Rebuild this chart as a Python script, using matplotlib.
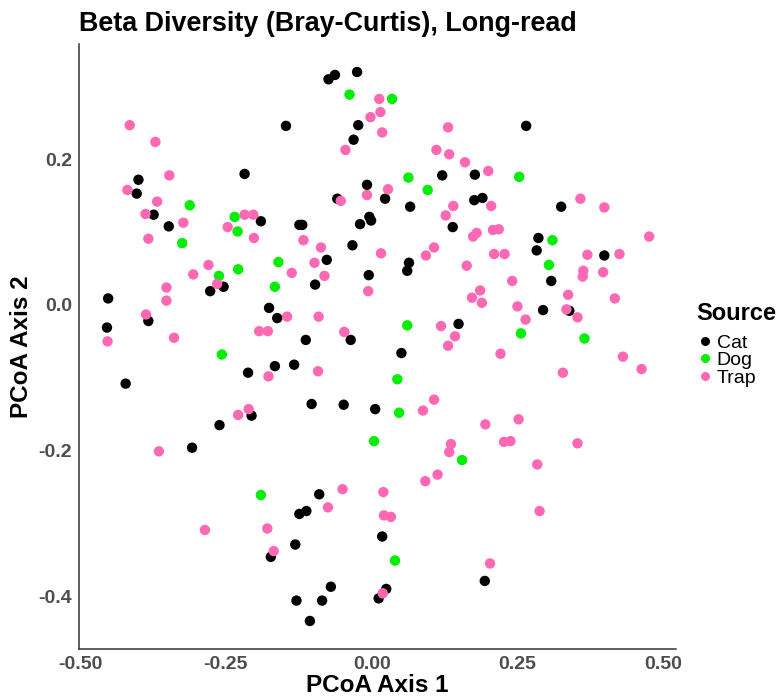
import matplotlib
matplotlib.use("Agg")
import matplotlib.pyplot as plt
from matplotlib.lines import Line2D

plt.rcParams['font.family'] = ['Liberation Sans', 'DejaVu Sans']

groups = ["Cat", "Dog", "Trap"]
colors = {"Cat": "#000000", "Dog": "#00EE00", "Trap": "#FF69B4"}

cat_x = [-0.400, -0.403, -0.374, -0.348, -0.218, -0.190, -0.074, -0.063, -0.025, -0.147,
         -0.023, -0.031, 0.121, 0.177, -0.008, -0.059, 0.023, 0.066, 0.176, 0.190,
         0.139, -0.124, -0.119, -0.020, -0.004, -0.001, -0.033, 0.265, 0.325, 0.286,
         0.283, 0.399, 0.308, 0.294, 0.339, -0.277, -0.254, -0.452, -0.383, -0.176,
         -0.162, -0.454, -0.212, -0.166, -0.422, -0.206, -0.261, -0.308, -0.173, -0.077,
         -0.097, -0.005, 0.064, 0.061, 0.149, -0.036, -0.113, 0.051, -0.133, -0.103,
         -0.048, 0.006, -0.090, -0.124, -0.112, 0.018, -0.131, -0.070, -0.129, -0.085,
         0.025, 0.012, -0.106, 0.194]
cat_y = [0.172, 0.153, 0.124, 0.108, 0.180, 0.115, 0.310, 0.316, 0.320, 0.246,
         0.247, 0.227, 0.178, 0.179, 0.165, 0.146, 0.146, 0.135, 0.144, 0.147,
         0.107, 0.110, 0.110, 0.111, 0.121, 0.116, 0.082, 0.246, 0.135, 0.092,
         0.075, 0.068, 0.033, -0.007, -0.008, 0.019, 0.025, 0.009, -0.022, -0.004,
         -0.018, -0.031, -0.093, -0.084, -0.108, -0.152, -0.165, -0.196, -0.346, 0.062,
         0.028, 0.041, 0.058, 0.047, -0.026, -0.048, -0.048, -0.066, -0.082, -0.136,
         -0.137, -0.143, -0.260, -0.287, -0.283, -0.318, -0.329, -0.387, -0.406, -0.406,
         -0.390, -0.403, -0.434, -0.379]

dog_x = [-0.312, -0.235, -0.230, -0.325, -0.038, 0.035, 0.063, 0.096, 0.253, 0.310,
         0.304, -0.229, -0.262, -0.160, -0.166, -0.257, -0.190, 0.061, 0.044, 0.047,
         0.004, 0.155, 0.040, 0.256, 0.365]
dog_y = [0.137, 0.121, 0.101, 0.085, 0.289, 0.283, 0.175, 0.158, 0.176, 0.089,
         0.055, 0.049, 0.040, 0.059, 0.025, -0.068, -0.261, -0.028, -0.102, -0.148,
         -0.187, -0.213, -0.351, -0.039, -0.046]

trap_x = [-0.415, -0.371, -0.347, -0.419, -0.368, -0.388, -0.323, -0.383, -0.218, -0.203,
          -0.247, -0.202, 0.013, 0.015, -0.002, 0.018, -0.045, 0.131, 0.111, 0.133,
          0.160, 0.200, 0.028, -0.008, -0.053, 0.140, 0.127, 0.205, 0.174, 0.180,
          -0.117, -0.087, 0.107, 0.016, 0.093, 0.358, 0.399, 0.208, 0.218, 0.476,
          0.210, 0.228, 0.370, 0.425, 0.363, 0.362, 0.397, 0.241, 0.186, 0.172,
          0.189, 0.337, 0.417, 0.250, 0.334, 0.353, 0.264, 0.221, 0.431, 0.463,
          0.328, 0.252, 0.195, 0.227, 0.238, 0.353, 0.284, 0.288, 0.203, -0.280,
          -0.306, -0.265, -0.352, -0.352, -0.387, -0.453, -0.339, -0.193, -0.178, -0.177,
          -0.211, -0.229, -0.365, -0.286, -0.179, -0.168, -0.098, -0.137, -0.081, -0.006,
          0.163, -0.145, -0.091, 0.119, 0.143, 0.131, -0.047, -0.092, 0.107, 0.088,
          0.136, 0.133, 0.092, 0.113, -0.050, 0.020, -0.075, 0.021, 0.033, 0.019]
trap_y = [0.247, 0.224, 0.178, 0.158, 0.142, 0.125, 0.113, 0.091, 0.124, 0.124,
          0.107, 0.092, 0.283, 0.265, 0.258, 0.237, 0.213, 0.244, 0.213, 0.207,
          0.196, 0.184, 0.159, 0.151, 0.143, 0.136, 0.123, 0.136, 0.094, 0.099,
          0.089, 0.079, 0.079, 0.071, 0.068, 0.146, 0.134, 0.103, 0.104, 0.094,
          0.070, 0.070, 0.069, 0.070, 0.047, 0.039, 0.045, 0.033, 0.020, 0.010,
          0.003, 0.014, 0.009, -0.002, -0.006, -0.017, -0.020, -0.067, -0.071, -0.088,
          -0.093, -0.157, -0.164, -0.188, -0.187, -0.190, -0.219, -0.283, -0.355, 0.055,
          0.042, 0.029, 0.024, 0.006, -0.013, -0.050, -0.045, -0.036, -0.036, -0.098,
          -0.143, -0.151, -0.201, -0.309, -0.307, -0.338, 0.058, 0.044, 0.040, 0.019,
          0.054, -0.016, -0.016, -0.029, -0.043, -0.056, -0.037, -0.091, -0.130, -0.145,
          -0.191, -0.202, -0.242, -0.233, -0.253, -0.257, -0.278, -0.289, -0.291, -0.396]

data = {"Cat": (cat_x, cat_y), "Dog": (dog_x, dog_y), "Trap": (trap_x, trap_y)}

x_ticks = [-0.50, -0.25, 0.00, 0.25, 0.50]
y_ticks = [-0.4, -0.2, 0.0, 0.2]

fig = plt.figure(figsize=(7.79, 6.98), dpi=100)
ax = fig.add_axes([0.1014, 0.0702, 0.7664, 0.8668])

for g in groups:
    xs, ys = data[g]
    ax.scatter(xs, ys, s=56, color=colors[g], edgecolors='none', zorder=3)

ax.set_xlim(-0.502, 0.522)
ax.set_ylim(-0.4725, 0.3585)
ax.set_xticks(x_ticks)
ax.set_xticklabels([f"{t:.2f}" for t in x_ticks])
ax.set_yticks(y_ticks)
ax.set_yticklabels([f"{t:.1f}" for t in y_ticks])

for side in ['top', 'right']:
    ax.spines[side].set_visible(False)
for side in ['left', 'bottom']:
    ax.spines[side].set_color('#333333')
    ax.spines[side].set_linewidth(1.1)

ax.tick_params(axis='both', length=0, pad=5, labelsize=14, labelcolor='#4D4D4D')
for lbl in ax.get_xticklabels() + ax.get_yticklabels():
    lbl.set_fontweight('bold')

ax.set_xlabel("PCoA Axis 1", fontsize=17.5, fontweight='bold', labelpad=1)
ax.set_ylabel("PCoA Axis 2", fontsize=17.5, fontweight='bold', labelpad=4)
ax.set_title("Beta Diversity (Bray-Curtis), Long-read", fontsize=19.4, fontweight='bold',
             loc='left', pad=9)

fig.text(696 / 779, 1 - 313 / 698, "Source", fontsize=17, fontweight='bold',
         ha='left', va='center')
handles = [Line2D([0], [0], marker='o', linestyle='', markersize=6.5,
                  markerfacecolor=colors[g], markeredgecolor='none') for g in groups]
leg = fig.legend(handles, groups, loc='upper left', bbox_to_anchor=(0.8776, 0.541),
                 frameon=False, fontsize=14, handletextpad=0.2,
                 labelspacing=0.0, handlelength=0.8, borderpad=0.2)

fig.savefig("out.png", dpi=100)
